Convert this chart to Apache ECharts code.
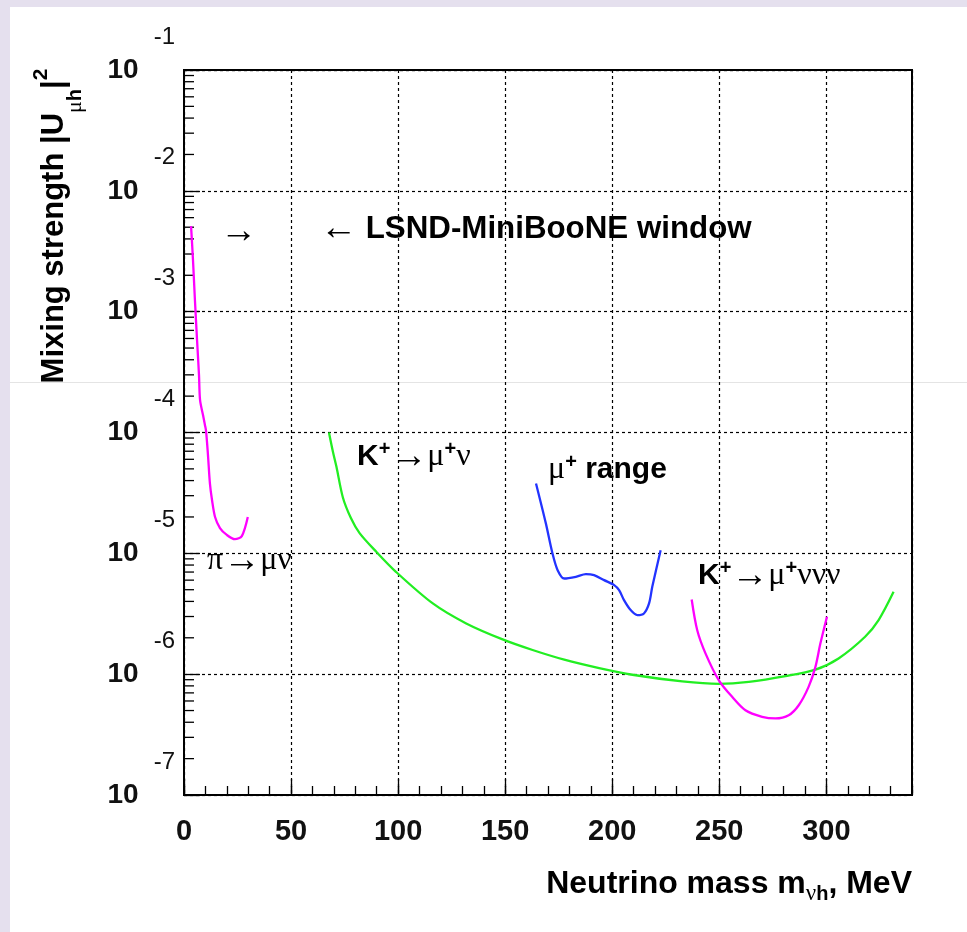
<!DOCTYPE html>
<html>
<head>
<meta charset="utf-8">
<script src="https://cdn.jsdelivr.net/npm/echarts@6/dist/echarts.min.js"></script>
<style>
  html, body { margin:0; padding:0; width:967px; height:932px; background:#e5e0ee; overflow:hidden; }
  #panel { position:absolute; left:10px; top:7px; width:957px; height:925px; background:#ffffff; }
  #scan { position:absolute; left:10px; top:382px; width:957px; height:1px; background:#e4e4e4; }
  #chart { position:absolute; left:0; top:0; width:967px; height:932px; }
</style>
</head>
<body>
<div id="panel"></div>
<div id="scan"></div>
<div id="chart"></div>
<script>
// ---- data ----
const piMuNuX = [3.3, 4.2, 5.1, 6.1, 7.0, 7.5, 8.9, 9.8, 10.3, 11.2, 12.1, 13.1, 14.5, 16.8, 20.0, 23.8, 27.0, 29.8];
const piMuNuY = [5.1e-3, 2.67e-3, 1.25e-3, 5.8e-4, 3.0e-4, 1.85e-4, 1.39e-4, 1.15e-4, 1.03e-4, 6.5e-5, 3.8e-5, 2.75e-5, 2.0e-5, 1.62e-5, 1.42e-5, 1.31e-5, 1.39e-5, 2.0e-5];

const kMuNuX = [67.7, 69.5, 71.2, 74.2, 78.0, 82.0, 89.8, 99.1, 116.2, 131.8, 148.8, 162.8, 177.6, 193.9, 209.4, 232.7, 249.8, 263.8, 280.9, 294.9, 305.7, 318.1, 324.4, 331.4];
const kMuNuY = [1.0e-4, 7.0e-5, 5.2e-5, 2.9e-5, 1.95e-5, 1.47e-5, 1.03e-5, 7.0e-6, 3.85e-6, 2.63e-6, 1.94e-6, 1.585e-6, 1.318e-6, 1.122e-6, 9.89e-7, 8.71e-7, 8.32e-7, 8.63e-7, 9.62e-7, 1.09e-6, 1.35e-6, 2.04e-6, 2.80e-6, 4.80e-6];

const muRangeX = [164.4, 169.0, 172.1, 174.5, 177.6, 183.0, 187.7, 191.5, 196.2, 200.9, 203.2, 205.5, 208.6, 211.7, 214.8, 217.2, 218.7, 222.6];
const muRangeY = [3.79e-5, 1.77e-5, 9.98e-6, 7.26e-6, 6.19e-6, 6.40e-6, 6.73e-6, 6.60e-6, 6.00e-6, 5.46e-6, 4.96e-6, 4.10e-6, 3.39e-6, 3.08e-6, 3.18e-6, 3.85e-6, 5.28e-6, 1.06e-5];

const kMuNuNuNuX = [237.1, 239.7, 243.6, 249.8, 256.0, 262.2, 270.0, 276.2, 282.4, 287.1, 291.7, 294.9, 297.2, 300.3];
const kMuNuNuNuY = [4.15e-6, 2.31e-6, 1.48e-6, 8.9e-7, 6.49e-7, 5.03e-7, 4.44e-7, 4.30e-7, 4.57e-7, 5.53e-7, 7.85e-7, 1.15e-6, 1.79e-6, 2.99e-6];

const xMin = 0, xMax = 340, xMajor = 50, xMinor = 10;
const yMin = 1e-7, yMax = 1e-1;
const yMinorMultipliers = [2, 3, 4, 5, 6, 7, 8, 9];
const yDecades = [-7, -6, -5, -4, -3, -2];

// ---- styling ----
const SANS = "'Liberation Sans', Arial, Helvetica, sans-serif";
const SERIF = "'Liberation Serif', 'Times New Roman', serif";

const zip = (xs, ys) => xs.map((x, i) => [x, ys[i]]);
const yMinorTickValues = [];
yDecades.forEach(e => yMinorMultipliers.forEach(k => yMinorTickValues.push([0, k * Math.pow(10, e)])));

const chart = echarts.init(document.getElementById('chart'), null, { renderer: 'canvas' });

const gridLine = { color: '#000', width: 1.2, type: [3, 3] };

const annoRich = {
  ar: { fontFamily: SERIF, fontSize: 37, color: '#333', lineHeight: 36 },
  bt: { fontFamily: SANS, fontWeight: 'bold', fontSize: 30, color: '#111', lineHeight: 36 },
  bl: { fontFamily: SANS, fontWeight: 'bold', fontSize: 31.3, color: '#111', lineHeight: 36 },
  g:  { fontFamily: SERIF, fontSize: 32, color: '#333', lineHeight: 36 },
  sp: { fontFamily: SANS, fontWeight: 'bold', fontSize: 20, color: '#222', lineHeight: 20, padding: [0, 0, 16, 0] }
};

function anno(x, y, text) {
  return { type: 'text', x: x, y: y, z: 100, silent: true,
    style: { text: text, rich: annoRich, align: 'left', verticalAlign: 'middle' } };
}

function lineSeries(name, xs, ys, color) {
  return { name: name, type: 'line', data: zip(xs, ys), showSymbol: false, smooth: 0.3,
    lineStyle: { color: color, width: 2.3 }, itemStyle: { color: color }, z: 10, animation: false };
}

const option = {
  animation: false,
  backgroundColor: 'transparent',
  grid: { left: 184, top: 70, width: 728, height: 725, show: true, borderColor: '#000', borderWidth: 2, backgroundColor: 'transparent' },
  xAxis: [
    { type: 'value', min: xMin, max: xMax, interval: xMajor, position: 'bottom',
      axisLine: { show: true, lineStyle: { color: '#000', width: 2 } },
      axisTick: { show: true, inside: true, length: 16, lineStyle: { color: '#000', width: 1.3 } },
      axisLabel: { show: true, margin: 22, fontSize: 29, fontWeight: 'bold', fontFamily: SANS, color: '#111',
        showMaxLabel: false, formatter: v => (v % xMajor === 0 ? String(v) : '') },
      splitLine: { show: true, lineStyle: gridLine } },
    { type: 'value', min: xMin, max: xMax, interval: xMinor, position: 'bottom',
      axisLine: { show: false },
      axisTick: { show: true, inside: true, length: 9, lineStyle: { color: '#000', width: 1.3 } },
      axisLabel: { show: false }, splitLine: { show: false } }
  ],
  yAxis: [
    { type: 'log', logBase: 10, min: yMin, max: yMax, interval: 1,
      axisLine: { show: true, lineStyle: { color: '#000', width: 2 } },
      axisTick: { show: true, inside: true, length: 16, lineStyle: { color: '#000', width: 1.3 } },
      minorTick: { show: false },
      axisLabel: { show: true, margin: 9, color: '#111',
        formatter: v => '{b|10}{s|' + Math.round(Math.log10(v)) + '}',
        rich: {
          b: { fontFamily: SANS, fontWeight: 'bold', fontSize: 28, color: '#111', lineHeight: 28, padding: [30, 0, 30, 0] },
          s: { fontFamily: SANS, fontSize: 24, color: '#111', lineHeight: 22, padding: [0, 0, 66, 15] }
        } },
      splitLine: { show: true, lineStyle: gridLine } }
  ],
  series: [
    { type: 'custom', xAxisIndex: 0, yAxisIndex: 0, silent: true, z: 6, data: yMinorTickValues,
      renderItem: (params, api) => {
        const p = api.coord([api.value(0), api.value(1)]);
        return { type: 'line', shape: { x1: p[0], y1: p[1], x2: p[0] + 10, y2: p[1] },
          style: { stroke: '#000', lineWidth: 1.3 } };
      } },
    lineSeries('π→μν', piMuNuX, piMuNuY, '#ff00ff'),
    lineSeries('K+→μ+ν', kMuNuX, kMuNuY, '#22ee22'),
    lineSeries('μ+ range', muRangeX, muRangeY, '#2233ff'),
    lineSeries('K+→μ+ννν', kMuNuNuNuX, kMuNuNuNuY, '#ff00ff')
  ],
  graphic: [
    // y axis title
    { type: 'text', x: 54, y: 226, rotation: Math.PI / 2, silent: true,
      style: { text: '{m|Mixing strength |U}{sg|μ}{sh|h}{m||}{sp|2}', align: 'center', verticalAlign: 'middle',
        rich: {
          m:  { fontFamily: SANS, fontWeight: 'bold', fontSize: 31, color: '#111', lineHeight: 30, padding: [20, 0, 20, 0] },
          sg: { fontFamily: SERIF, fontSize: 22, color: '#111', lineHeight: 20, padding: [46, 0, 4, 0] },
          sh: { fontFamily: SANS, fontWeight: 'bold', fontSize: 20, color: '#111', lineHeight: 20, padding: [46, 0, 4, 0] },
          sp: { fontFamily: SANS, fontWeight: 'bold', fontSize: 21, color: '#111', lineHeight: 20, padding: [12, 0, 38, 0] }
        } } },
    // x axis title
    { type: 'text', x: 912, y: 884, silent: true,
      style: { text: '{m|Neutrino mass m}{sg|ν}{sh|h}{m|, MeV}', align: 'right', verticalAlign: 'middle',
        rich: {
          m:  { fontFamily: SANS, fontWeight: 'bold', fontSize: 32, color: '#111', lineHeight: 30, padding: [10, 0, 10, 0] },
          sg: { fontFamily: SERIF, fontSize: 23, color: '#111', lineHeight: 20, padding: [25, 0, 5, 0] },
          sh: { fontFamily: SANS, fontWeight: 'bold', fontSize: 20, color: '#111', lineHeight: 20, padding: [25, 0, 5, 0] }
        } } },
    anno(220, 232, '{ar|→}'),
    anno(320, 229, '{ar|←}{bl| LSND-MiniBooNE window}'),
    anno(357, 457, '{bt|K}{sp|+}{ar|→}{g|μ}{sp|+}{g|ν}'),
    anno(548, 470, '{g|μ}{sp|+}{bt| range}'),
    anno(698, 576, '{bt|K}{sp|+}{ar|→}{g|μ}{sp|+}{g|ννν}'),
    anno(207, 561, '{g|π}{ar|→}{g|μν}')
  ]
};

chart.setOption(option);
</script>
</body>
</html>
